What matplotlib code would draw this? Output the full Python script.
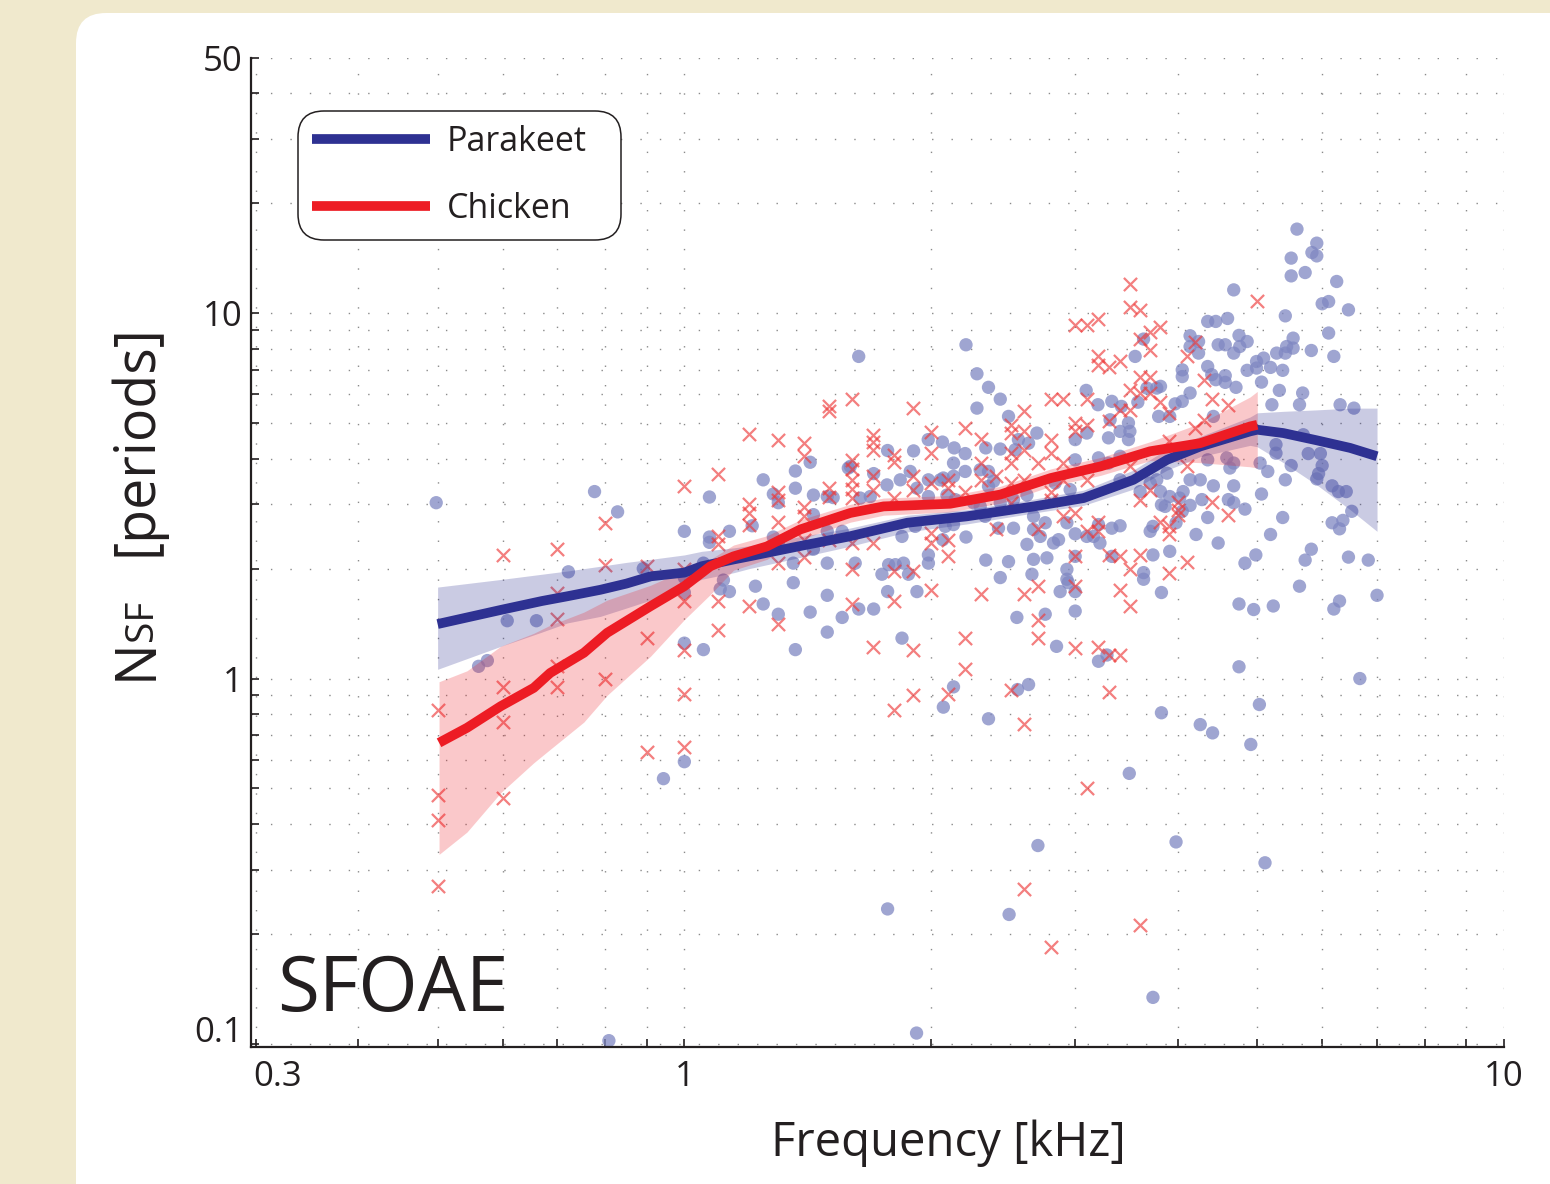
import numpy as np
import matplotlib
matplotlib.use('Agg')
import matplotlib.pyplot as plt
from matplotlib.patches import FancyBboxPatch
from matplotlib.transforms import IdentityTransform, ScaledTranslation
from matplotlib.ticker import NullFormatter, FixedLocator

plt.rcParams['font.family'] = ['Open Sans', 'DejaVu Sans']

# ---------------- data ----------------
# Parakeet individual SFOAE delays (frequency kHz, N_SF periods)
parakeet_freq = [
    0.498, 0.777, 0.829, 0.722, 0.608, 0.660, 0.561, 0.575, 0.891, 1.000,
    1.073, 1.248, 1.366, 1.424, 1.366, 1.284, 1.302, 1.437, 1.494, 1.519,
    1.585, 1.135, 1.073, 1.073, 1.210, 1.284, 1.302, 1.437, 1.437, 1.494,
    1.558, 1.055, 1.000, 1.000, 1.116, 1.106, 1.135, 1.221, 1.248, 1.302,
    1.358, 1.358, 1.424, 1.494, 1.494, 1.494, 1.558, 1.000, 1.055, 1.366,
    1.000, 0.943, 0.809, 1.920,
    2.13, 2.07, 2.35, 2.55, 2.63, 3.82, 4.26, 3.49, 2.70, 3.98,
    1.77, 2.49, 3.73, 4.75, 6.67, 5.03, 4.41, 4.91, 5.11,
    1.632, 2.206, 3.548, 3.633, 2.275, 2.350, 2.429, 2.275, 2.486, 3.092,
    3.196, 3.323, 3.414, 3.575, 3.81, 3.667, 3.401, 3.482, 3.496,
    3.482, 3.307, 3.292, 3.097, 2.998, 2.692, 2.630, 2.556, 2.533, 2.429,
    2.332, 2.065, 2.134, 1.984, 1.904, 1.770, 1.594, 2.201, 2.201, 2.130,
    2.130, 2.052, 2.296, 2.350, 2.384, 2.350, 1.886, 1.922, 1.834, 1.767,
    1.702, 1.686, 1.639, 1.985, 1.985, 2.070, 2.091, 2.140, 2.253, 2.296,
    2.429, 2.521, 2.618, 2.834, 2.956, 2.998, 3.201, 3.292, 3.401, 3.401,
    3.701, 3.77, 3.91, 4.02, 4.26, 3.86, 3.598, 3.701, 3.73, 3.401,
    3.323, 3.201, 3.156, 3.097, 2.998, 2.929, 2.756, 2.667, 2.667, 2.718,
    2.821, 2.861, 2.618, 2.486, 2.332, 2.429, 2.655, 2.667, 2.769, 2.929,
    2.929, 2.940, 2.998, 2.874, 2.998, 3.214, 3.323, 3.633, 3.633, 2.845,
    2.756, 2.545, 2.998, 3.201, 3.278, 1.843, 1.632, 1.702, 1.616, 1.742,
    1.775, 1.809, 1.851, 1.770, 1.922, 1.877, 1.985, 1.985, 2.206, 2.067,
    2.081, 1.913, 1.843, 2.328, 2.417, 2.130, 2.521,
    5.59, 5.91, 5.83, 5.91, 5.50, 5.50, 5.72, 4.68, 6.25, 6.00,
    6.11, 6.46, 5.41, 4.35, 4.45, 4.60, 6.11, 4.14, 4.24, 4.14,
    4.24, 4.75, 4.86, 4.76, 4.68, 4.48, 4.57, 5.53, 5.43, 5.53,
    5.28, 5.41, 5.82, 6.20, 4.05, 4.05, 4.35, 4.99, 5.09, 4.86,
    4.99, 5.19, 5.37, 4.40, 4.45, 4.57, 4.57, 4.71, 5.06, 4.14,
    5.32, 5.68, 5.63, 3.97, 4.05, 3.77, 5.21, 6.31, 6.56, 3.79,
    3.91, 4.42, 5.27, 5.27, 5.69, 5.77, 5.97, 6.00, 5.94, 5.91,
    6.17, 6.28, 6.42, 5.04, 5.15, 5.50, 5.41, 5.06, 4.35, 4.59,
    4.68, 4.63, 4.42, 4.68, 3.88, 4.14, 4.06, 3.81, 3.82, 4.28,
    4.61, 4.68, 4.83, 4.14, 4.05, 4.35, 3.98, 4.21, 4.48, 3.73,
    3.91, 5.37, 5.19, 6.52, 6.17, 6.36, 6.30, 5.82, 5.72, 6.46,
    6.83, 5.63, 4.75, 4.95, 5.23, 6.20, 6.30, 7.00, 3.82, 4.83,
    4.98,
]
parakeet_nsf = [
    3.03, 3.25, 2.86, 1.96, 1.44, 1.44, 1.08, 1.12, 2.00, 2.53,
    3.14, 3.50, 3.70, 3.91, 3.32, 3.20, 3.03, 3.18, 3.15, 3.13,
    3.77, 2.53, 2.44, 2.36, 2.62, 2.44, 2.35, 2.81, 2.26, 2.53,
    2.53, 2.07, 1.89, 1.72, 1.86, 1.76, 1.73, 1.79, 1.60, 1.50,
    2.07, 1.83, 1.52, 2.07, 1.69, 1.34, 1.47, 1.25, 1.20, 1.20,
    0.592, 0.532, 0.102, 0.107,
    0.949, 0.835, 0.776, 0.933, 0.963, 0.806, 0.748, 0.550, 0.349, 0.357,
    0.234, 0.226, 0.134, 1.077, 1.00, 0.849, 0.710, 0.660, 0.313,
    7.62, 8.20, 7.62, 8.50, 6.83, 6.27, 5.82, 5.50, 5.22, 6.15,
    5.62, 5.74, 5.56, 5.71, 6.31, 6.24, 4.75, 5.01, 4.75,
    4.51, 5.11, 4.56, 4.70, 4.51, 4.70, 4.41, 4.51, 4.23, 4.25,
    4.28, 4.44, 4.28, 4.51, 4.20, 4.21, 3.81, 4.13, 3.69, 3.89,
    3.58, 3.50, 3.73, 3.69, 3.47, 3.36, 3.69, 3.32, 3.50, 3.39,
    3.64, 3.15, 3.12, 3.50, 3.15, 3.54, 3.18, 3.09, 3.03, 2.96,
    3.03, 3.09, 3.18, 3.43, 3.29, 3.97, 4.02, 3.89, 4.06, 3.50,
    3.43, 3.50, 3.15, 3.12, 3.50, 2.96, 3.25, 2.53, 2.61, 2.62,
    2.58, 2.64, 2.45, 2.45, 2.49, 2.67, 2.67, 2.78, 2.56, 2.45,
    2.35, 2.40, 2.33, 2.09, 2.11, 1.89, 1.93, 2.12, 2.14, 1.99,
    1.87, 1.83, 1.73, 1.73, 2.16, 2.35, 2.16, 1.95, 1.87, 1.225,
    1.50, 1.47, 1.53, 1.115, 1.16, 1.29, 1.55, 1.55, 2.07, 1.93,
    2.05, 2.05, 2.07, 1.73, 1.73, 1.93, 2.18, 2.07, 2.44, 2.40,
    2.61, 2.61, 2.45, 2.78, 2.58, 2.64, 2.58,
    17.0, 15.56, 14.67, 14.36, 14.16, 12.66, 12.93, 11.59, 12.22, 10.62,
    10.77, 10.22, 9.84, 9.50, 9.50, 9.68, 8.83, 8.68, 8.37, 8.11,
    7.78, 8.70, 8.37, 8.11, 7.78, 8.20, 8.20, 8.55, 8.11, 8.03,
    7.78, 7.78, 7.91, 7.62, 7.00, 6.71, 7.15, 7.38, 7.54, 6.98,
    7.08, 7.11, 6.98, 6.79, 6.58, 6.75, 6.47, 6.27, 6.48, 6.05,
    6.15, 6.05, 5.62, 5.65, 5.74, 6.24, 5.62, 5.62, 5.50, 5.22,
    5.22, 5.22, 4.37, 4.14, 4.65, 4.13, 4.13, 3.83, 3.64, 3.52,
    3.37, 3.25, 3.25, 3.89, 3.69, 3.83, 3.50, 3.20, 3.97, 4.02,
    3.89, 3.77, 3.37, 3.37, 3.65, 3.50, 3.25, 3.25, 2.99, 3.09,
    3.09, 3.03, 2.91, 2.98, 2.87, 2.76, 2.67, 2.48, 2.35, 2.18,
    2.23, 2.76, 2.48, 2.87, 2.67, 2.71, 2.57, 2.26, 2.11, 2.15,
    2.11, 1.79, 1.60, 1.545, 1.58, 1.55, 1.63, 1.69, 1.72, 2.07,
    2.18,
]

# Chicken individual SFOAE delays (measured on a 0.1 kHz grid)
chicken_freq = (
    [0.5] * 4 + [0.6] * 4 + [0.7] * 5 + [0.8] * 3 + [0.9] * 3 + [1.0] * 6
    + [1.1] * 5 + [1.2] * 5 + [1.3] * 7 + [1.4] * 6 + [1.5] * 5 + [1.6] * 9
    + [1.7] * 7 + [1.8] * 6 + [1.9] * 6 + [2.0] * 6 + [2.1] * 5 + [2.2] * 4
    + [2.3] * 4 + [2.4] * 2 + [2.5] * 7 + [2.6] * 7 + [2.7] * 5 + [2.8] * 6
    + [2.9] * 4 + [3.0] * 7 + [3.1] * 6 + [3.2] * 6 + [3.3] * 5 + [3.4] * 5
    + [3.5] * 7 + [3.6] * 7 + [3.7] * 5 + [3.8] * 3 + [3.9] * 5 + [4.0] * 3
    + [4.1] * 3 + [4.2] * 2 + [4.3] * 2 + [4.4] * 2 + [4.6] * 2 + [5.0] * 1
)
chicken_nsf = [
    0.82, 0.48, 0.41, 0.27,
    2.18, 0.95, 0.76, 0.47,
    2.27, 1.72, 1.46, 1.08, 0.95,
    2.67, 2.04, 1.00,
    2.03, 1.29, 0.63,
    3.37, 1.99, 1.63, 1.20, 0.91, 0.65,
    3.64, 2.45, 2.34, 1.63, 1.36,
    4.68, 3.01, 2.84, 2.64, 1.58,
    4.51, 3.25, 3.09, 2.69, 2.30, 2.07, 1.41,
    4.41, 4.06, 2.95, 2.78, 2.40, 2.15,
    5.56, 5.39, 3.32, 3.15, 2.40,
    5.82, 3.96, 3.75, 3.50, 3.30, 3.12, 2.35, 2.00, 1.60,
    4.65, 4.43, 4.23, 3.58, 3.29, 2.35, 1.22,
    4.10, 3.91, 3.12, 1.97, 1.63, 0.82,
    5.50, 3.58, 3.29, 1.97, 1.20, 0.90,
    4.72, 4.14, 3.43, 2.50, 2.35, 1.75,
    3.50, 3.32, 2.40, 2.16, 0.91,
    4.85, 3.25, 1.29, 1.06,
    4.53, 3.89, 3.50, 1.70,
    3.58, 2.56,
    4.95, 4.70, 4.14, 3.89, 3.43, 3.03, 0.93,
    5.41, 4.75, 4.23, 3.50, 1.70, 0.75, 0.265,
    3.90, 2.56, 1.79, 1.45, 1.29,
    5.82, 4.51, 4.14, 3.25, 3.09, 0.184,
    5.82, 3.89, 3.50, 2.78,
    9.30, 5.01, 4.75, 2.84, 2.16, 1.79, 1.21,
    9.30, 5.82, 4.95, 3.50, 2.53, 0.50,
    9.66, 7.62, 7.23, 2.69, 2.53, 1.22,
    7.13, 5.06, 2.18, 1.16, 0.92,
    7.38, 5.44, 2.16, 1.75, 1.16,
    12.0, 10.4, 6.18, 5.44, 3.81, 2.00, 1.58,
    10.2, 8.50, 6.71, 6.05, 3.09, 2.18, 0.212,
    8.86, 7.95, 6.71, 6.05, 3.29,
    9.15, 5.70, 2.69,
    5.33, 4.46, 2.61, 2.48, 1.95,
    3.05, 2.81, 2.90,
    7.65, 3.81, 2.09,
    8.37, 4.85,
    6.58, 5.11,
    5.82, 3.05,
    5.62, 2.81,
    10.8,
]

# Smoothed trends and confidence bands
parakeet_fit_freq = [0.50, 0.60, 0.67, 0.72, 0.79, 0.85, 0.91, 1.00, 1.05, 1.15, 1.20,
                     1.39, 1.59, 1.87, 2.21, 2.67, 3.07, 3.53, 3.88, 4.26, 4.90,
                     5.00, 5.38, 5.91, 6.49, 7.00]
parakeet_fit = [1.41, 1.545, 1.63, 1.68, 1.75, 1.82, 1.905, 1.95, 2.03, 2.12, 2.16,
                2.31, 2.45, 2.67, 2.78, 2.96, 3.12, 3.50, 3.97, 4.32, 4.75,
                4.80, 4.70, 4.49, 4.28, 4.06]
parakeet_lo = [1.06, 1.23, 1.34, 1.42, 1.48, 1.56, 1.64, 1.79, 1.87, 1.95, 2.00,
               2.15, 2.30, 2.52, 2.65, 2.84, 2.98, 3.30, 3.72, 4.05, 4.35,
               4.31, 3.90, 3.39, 2.90, 2.53]
parakeet_hi = [1.78, 1.87, 1.93, 1.97, 2.03, 2.08, 2.12, 2.18, 2.23, 2.28, 2.31,
               2.45, 2.58, 2.80, 2.90, 3.10, 3.28, 3.72, 4.25, 4.60, 5.20,
               5.34, 5.39, 5.44, 5.50, 5.50]

chicken_fit_freq = [0.502, 0.543, 0.597, 0.655, 0.686, 0.754, 0.805, 0.909, 1.00, 1.076,
                    1.148, 1.261, 1.385, 1.594, 1.75, 2.11, 2.43, 2.80, 3.22, 3.70,
                    4.26, 4.90, 5.00]
chicken_fit = [0.667, 0.733, 0.840, 0.943, 1.036, 1.176, 1.334, 1.577, 1.79, 2.03,
               2.16, 2.30, 2.56, 2.84, 2.96, 3.01, 3.19, 3.54, 3.81, 4.19,
               4.41, 4.90, 4.95]
chicken_lo = [0.33, 0.38, 0.487, 0.588, 0.64, 0.76, 0.90, 1.15, 1.45, 1.70,
              1.98, 2.12, 2.40, 2.68, 2.80, 2.86, 3.02, 3.36, 3.60, 3.95,
              3.90, 3.80, 3.77]
chicken_hi = [0.98, 1.05, 1.226, 1.33, 1.40, 1.52, 1.64, 1.80, 1.98, 2.12,
              2.32, 2.46, 2.72, 3.00, 3.12, 3.17, 3.36, 3.75, 4.03, 4.45,
              5.00, 5.90, 6.11]

series_labels = ['Parakeet', 'Chicken']
x_ticks = [0.3, 1, 10]
x_ticklabels = ['0.3', '1', '10']
y_ticks = [0.1, 1, 10, 50]
y_ticklabels = ['0.1', '1', '10', '50']

# ---------------- style ----------------
BLUE = '#2E3192'
RED = '#ED1C24'
DOT = '#7F87C2'
XCOL = '#EE3A3A'
TXT = '#231F20'

W, H = 1550, 1184
fig = plt.figure(figsize=(W / 100, H / 100), dpi=100)
fig.patch.set_facecolor('#F0E9CD')

panel = FancyBboxPatch((76, -60), 1700, 1171 + 60,
                       boxstyle='round,pad=0,rounding_size=30',
                       transform=IdentityTransform(),
                       facecolor='white', edgecolor='none', zorder=-5)
fig.add_artist(panel)

ax = fig.add_axes([251 / W, 1 - 1047 / H, (1504 - 251) / W, (1047 - 58) / H])
ax.set_facecolor('white')
ax.set_xscale('log')
ax.set_yscale('log')
ax.set_xlim(0.296, 10)
ax.set_ylim(0.098, 50)

# scatter
ax.scatter(parakeet_freq, parakeet_nsf, s=92, color=DOT, alpha=0.75,
           edgecolors='none', zorder=2)
ax.scatter(chicken_freq, chicken_nsf, s=90, marker='x', color=XCOL, alpha=0.65,
           linewidths=1.6, zorder=2)

# bands
ax.fill_between(parakeet_fit_freq, parakeet_lo, parakeet_hi, color=BLUE,
                alpha=0.25, lw=0, zorder=3)
ax.fill_between(chicken_fit_freq, chicken_lo, chicken_hi, color=RED,
                alpha=0.24, lw=0, zorder=3)

# trend lines
ax.plot(parakeet_fit_freq, parakeet_fit, color=BLUE, lw=7, zorder=4,
        solid_capstyle='butt', solid_joinstyle='round', label=series_labels[0])
ax.plot(chicken_fit_freq, chicken_fit, color=RED, lw=7, zorder=5,
        solid_capstyle='butt', solid_joinstyle='round', label=series_labels[1])

# ticks
ax.xaxis.set_major_locator(FixedLocator(x_ticks))
ax.set_xticklabels(x_ticklabels)
ax.xaxis.set_minor_locator(FixedLocator([0.4, 0.5, 0.6, 0.7, 0.8, 0.9,
                                         2, 3, 4, 5, 6, 7, 8, 9]))
ax.xaxis.set_minor_formatter(NullFormatter())
ax.yaxis.set_major_locator(FixedLocator(y_ticks))
ax.set_yticklabels(y_ticklabels)
ax.yaxis.set_minor_locator(FixedLocator([0.2, 0.3, 0.4, 0.5, 0.6, 0.7, 0.8, 0.9,
                                         2, 3, 4, 5, 6, 7, 8, 9, 20, 30, 40]))
ax.yaxis.set_minor_formatter(NullFormatter())

ax.tick_params(which='both', direction='in', length=6, width=1.2, color=TXT,
               top=False, right=False)
ax.tick_params(axis='x', which='major', labelsize=25, pad=9, labelcolor=TXT)
ax.tick_params(axis='y', which='major', labelsize=25, pad=6, labelcolor=TXT)

for s in ['top', 'right']:
    ax.spines[s].set_visible(False)
for s in ['left', 'bottom']:
    ax.spines[s].set_linewidth(1.6)
    ax.spines[s].set_color(TXT)

ax.grid(True, which='both', linestyle=(0, (1, 13)), color='#8a8a8a', lw=1.0)
ax.set_axisbelow(True)

# nudge a couple of tick labels as in the original
lab03 = ax.get_xticklabels()[0]
lab03.set_transform(lab03.get_transform() + ScaledTranslation(0.22, 0, fig.dpi_scale_trans))
lab01 = ax.get_yticklabels()[0]
lab01.set_transform(lab01.get_transform() + ScaledTranslation(0, 0.15, fig.dpi_scale_trans))

# axis labels
ax.set_xlabel('Frequency [kHz]', fontsize=34, color=TXT, labelpad=19)
ax.xaxis.label.set_x((948 - 251) / (1504 - 251))
fig.text(152 / W, 1 - 680 / H, 'N', rotation=90, rotation_mode='anchor',
         ha='left', va='baseline', fontsize=40, color=TXT)
fig.text(152 / W, 1 - 641 / H, 'SF', rotation=90, rotation_mode='anchor',
         ha='left', va='baseline', fontsize=28, color=TXT)
fig.text(152 / W, 1 - 556 / H, '[periods]', rotation=90, rotation_mode='anchor',
         ha='left', va='baseline', fontsize=40, color=TXT)

ax.text(0.021, 0.036, 'SFOAE', transform=ax.transAxes, fontsize=55,
        ha='left', va='baseline', color=TXT, zorder=6)

ax_w, ax_h = 1504 - 251, 1047 - 58
leg = ax.legend(loc='upper left',
                bbox_to_anchor=((298 - 251) / ax_w, 1 - (239 - 58) / ax_h,
                                (621 - 298) / ax_w, (239 - 111) / ax_h),
                mode='expand', fontsize=24.5,
                handlelength=3.45, handletextpad=0.5, labelspacing=0.95,
                borderpad=0.42, borderaxespad=0, frameon=True, fancybox=True,
                framealpha=1, edgecolor=TXT, facecolor='white')
leg.get_frame().set_boxstyle('round', pad=0, rounding_size=0.75)
leg.get_frame().set_linewidth(1.1)
for t in leg.get_texts():
    t.set_color(TXT)
leg.set_zorder(10)

fig.savefig('out.png', dpi=100, facecolor=fig.get_facecolor())
